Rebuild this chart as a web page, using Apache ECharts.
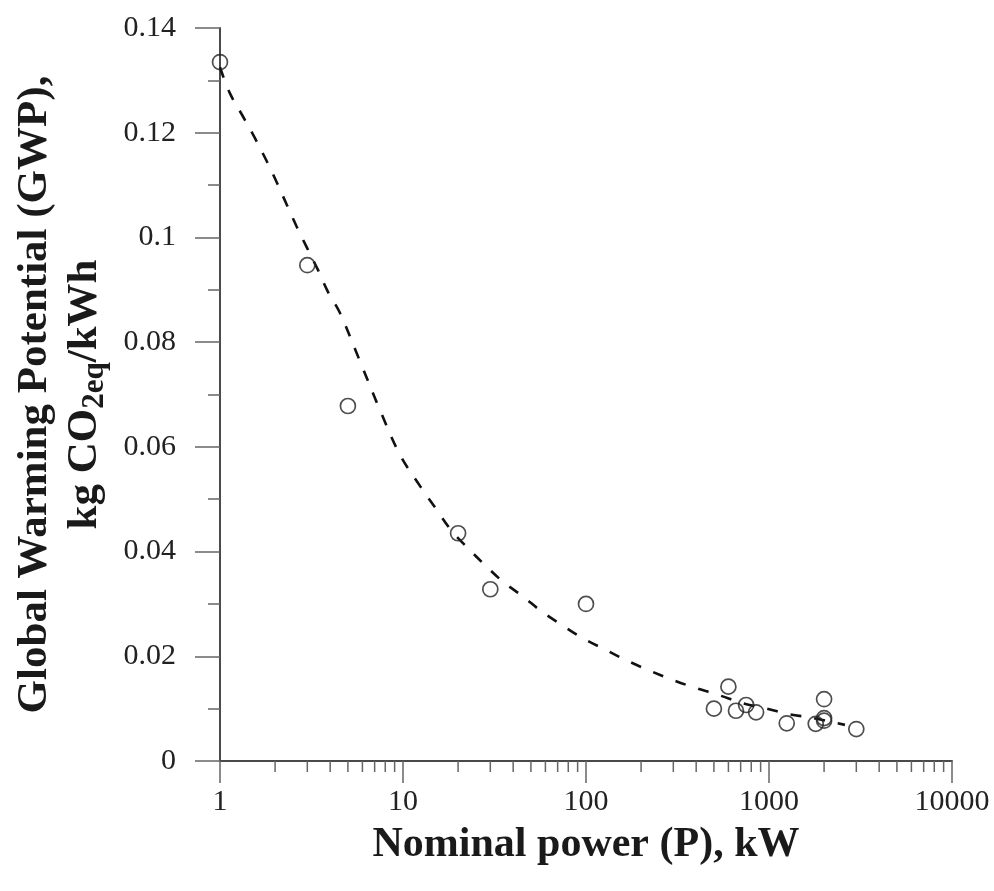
<!DOCTYPE html>
<html>
<head>
<meta charset="utf-8">
<script src="https://cdn.jsdelivr.net/npm/echarts@6/dist/echarts.min.js"></script>
<style>
  html, body { margin: 0; padding: 0; background: #ffffff; }
  #chart { width: 994px; height: 891px; }
</style>
</head>
<body>
<div id="chart"></div>
<script>
// ---- Data ----
const powerKW = [1, 3, 5, 20, 30, 100, 500, 600, 660, 750, 850, 1250, 1800, 2000, 2000, 2000, 3000];
const gwpValues = [0.1335, 0.0947, 0.0678, 0.0435, 0.0328, 0.0300, 0.0100, 0.0142, 0.0096, 0.0107, 0.0093, 0.0072, 0.0071, 0.0118, 0.0082, 0.0077, 0.0061];

// dashed fitted curve
const fitPower = [1, 1.13, 1.34, 1.55, 1.81, 2.05, 2.32, 2.63, 2.99, 3.43, 3.89, 4.52, 5.81, 7.49, 9.62, 12.4, 15.2, 18.4, 22.7, 28.1, 35.3, 45.3, 57, 73.6, 96.5, 127, 167, 218, 292, 385, 530, 722, 945, 1260, 1750, 2600];
const fitGwp   = [0.1325, 0.1276, 0.1230, 0.1190, 0.1144, 0.1104, 0.1062, 0.1020, 0.0980, 0.0938, 0.0896, 0.0856, 0.0764, 0.0670, 0.0585, 0.0525, 0.0481, 0.0440, 0.0406, 0.0374, 0.0342, 0.0314, 0.0286, 0.0260, 0.0234, 0.0213, 0.0192, 0.0174, 0.0156, 0.0141, 0.0126, 0.0110, 0.0101, 0.0090, 0.0082, 0.0069];

const xTickLabels = ['1', '10', '100', '1000', '10000'];
const yTickLabels = ['0', '0.02', '0.04', '0.06', '0.08', '0.1', '0.12', '0.14'];

// log-paper minor tick positions (2..9 of each decade)
const xMinorTickValues = [];
for (let d = 1; d < 10000; d *= 10) {
  for (let k = 2; k <= 9; k++) xMinorTickValues.push(k * d);
}

const serif = '"Liberation Serif", "Times New Roman", serif';
const axisColor = '#4a4a4a';

const chart = echarts.init(document.getElementById('chart'), null, { renderer: 'canvas' });

const option = {
  backgroundColor: '#ffffff',
  animation: false,
  grid: { left: 220, right: 42, top: 28, bottom: 130, containLabel: false },
  xAxis: {
    type: 'log',
    logBase: 10,
    min: 1,
    max: 10000,
    name: 'Nominal power (P), kW',
    nameLocation: 'middle',
    nameGap: 63,
    nameTextStyle: { fontFamily: serif, fontWeight: 'bold', fontSize: 42, color: '#1a1a1a' },
    axisLine: { show: true, onZero: false, lineStyle: { color: axisColor, width: 2 } },
    axisTick: { show: true, inside: false, length: 22, lineStyle: { color: '#666', width: 1.5 } },
    minorTick: { show: false },
    splitLine: { show: false },
    axisLabel: {
      margin: 26,
      fontFamily: serif,
      fontSize: 30,
      color: '#222',
      formatter: function (v) {
        const i = Math.round(Math.log10(v));
        return xTickLabels[i] !== undefined ? xTickLabels[i] : '';
      }
    }
  },
  yAxis: {
    type: 'value',
    min: 0,
    max: 0.14,
    interval: 0.02,
    name: '{b|Global Warming Potential (GWP),}\n{b|kg CO}{s|2eq}{b|/kWh}',
    nameLocation: 'middle',
    nameRotate: 90,
    nameGap: 110,
    nameTextStyle: {
      rich: {
        b: { fontFamily: serif, fontWeight: 'bold', fontSize: 43, lineHeight: 50, color: '#1a1a1a' },
        s: { fontFamily: serif, fontWeight: 'bold', fontSize: 31, lineHeight: 50, verticalAlign: 'bottom', color: '#1a1a1a' }
      }
    },
    axisLine: { show: true, lineStyle: { color: axisColor, width: 2 } },
    axisTick: { show: true, inside: false, length: 25, lineStyle: { color: '#666', width: 1.5 } },
    minorTick: { show: true, splitNumber: 2, length: 12, lineStyle: { color: '#666', width: 1.5 } },
    splitLine: { show: false },
    minorSplitLine: { show: false },
    axisLabel: {
      margin: 44,
      fontFamily: serif,
      fontSize: 30,
      color: '#222',
      formatter: function (v) {
        const i = Math.round(v / 0.02);
        return yTickLabels[i] !== undefined ? yTickLabels[i] : '';
      }
    }
  },
  series: [
    {
      name: 'minor x ticks',
      type: 'custom',
      silent: true,
      clip: false,
      z: 1,
      data: xMinorTickValues.map(function (v) { return [v, 0]; }),
      encode: { x: 0, y: 1 },
      renderItem: function (params, api) {
        const p = api.coord([api.value(0), 0]);
        return {
          type: 'line',
          shape: { x1: p[0], y1: p[1], x2: p[0], y2: p[1] + 11 },
          style: { stroke: '#666', lineWidth: 1.5 }
        };
      }
    },
    {
      name: 'fit',
      type: 'line',
      data: fitPower.map(function (p, i) { return [p, fitGwp[i]]; }),
      smooth: 0.35,
      showSymbol: false,
      symbol: 'none',
      clip: false,
      lineStyle: { color: '#111', width: 2.6, type: [11, 13] },
      z: 2
    },
    {
      name: 'GWP',
      type: 'scatter',
      data: powerKW.map(function (p, i) { return [p, gwpValues[i]]; }),
      symbol: 'circle',
      symbolSize: 15,
      itemStyle: { color: 'rgba(255,255,255,0)', borderColor: '#222', borderWidth: 1.7 },
      z: 3
    }
  ]
};

chart.setOption(option);
</script>
</body>
</html>
